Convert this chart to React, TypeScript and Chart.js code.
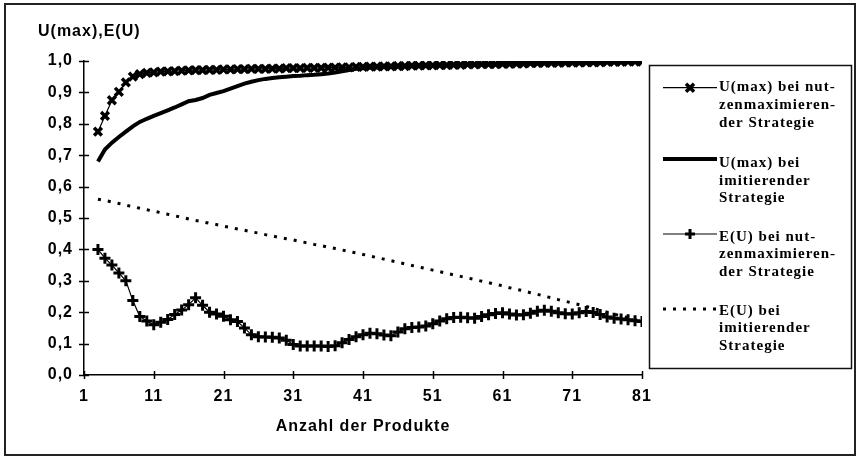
import React, { useEffect, useRef } from 'react';
import { Chart, registerables } from 'chart.js';

Chart.register(...registerables);

// Anzahl der Produkte (x values 3 … 81)
const anzahl = Array.from({ length: 79 }, (_, i) => i + 3);
const xTickValues = [1, 11, 21, 31, 41, 51, 61, 71, 81];

const yTitle = 'U(max),E(U)';
const xTitle = 'Anzahl der Produkte';

// U(max) bei nutzenmaximierender Strategie
const uMaxNutzen = [
  0.775, 0.825, 0.875, 0.902, 0.932, 0.95, 0.958, 0.962, 0.964, 0.966,
  0.967, 0.968, 0.969, 0.97, 0.971, 0.971, 0.972, 0.972, 0.973, 0.973,
  0.974, 0.974, 0.975, 0.975, 0.975, 0.976, 0.976, 0.977, 0.977, 0.977,
  0.978, 0.978, 0.978, 0.979, 0.979, 0.98, 0.98, 0.981, 0.981, 0.982,
  0.982, 0.983, 0.983, 0.984, 0.984, 0.985, 0.985, 0.986, 0.986, 0.987,
  0.987, 0.988, 0.988, 0.989, 0.989, 0.99, 0.99, 0.99, 0.991, 0.991,
  0.992, 0.992, 0.993, 0.993, 0.994, 0.994, 0.994, 0.995, 0.995, 0.995,
  0.996, 0.996, 0.996, 0.997, 0.997, 0.997, 0.998, 0.998, 0.998,
];

// U(max) bei imitierender Strategie
const uMaxImit = [
  0.68, 0.718, 0.74, 0.758, 0.775, 0.792, 0.806, 0.816, 0.825, 0.834,
  0.843, 0.852, 0.862, 0.872, 0.876, 0.882, 0.892, 0.898, 0.904, 0.912,
  0.92, 0.928, 0.934, 0.939, 0.943, 0.946, 0.948, 0.95, 0.952, 0.953,
  0.955, 0.956, 0.958, 0.96, 0.963, 0.967, 0.971, 0.975, 0.977, 0.979,
  0.98, 0.981, 0.982, 0.983, 0.984, 0.984, 0.985, 0.985, 0.986, 0.986,
  0.987, 0.987, 0.988, 0.988, 0.989, 0.989, 0.99, 0.99, 0.99, 0.991,
  0.991, 0.992, 0.992, 0.993, 0.993, 0.994, 0.994, 0.994, 0.995, 0.995,
  0.995, 0.996, 0.996, 0.996, 0.997, 0.997, 0.997, 0.998, 0.998,
];

// E(U) bei nutzenmaximierender Strategie
const eUNutzen = [
  0.4, 0.372, 0.35, 0.325, 0.3, 0.237, 0.186, 0.172, 0.16, 0.168,
  0.177, 0.193, 0.207, 0.224, 0.246, 0.222, 0.2, 0.194, 0.187, 0.176,
  0.17, 0.15, 0.128, 0.122, 0.121, 0.12, 0.118, 0.111, 0.097, 0.092,
  0.092, 0.092, 0.092, 0.091, 0.093, 0.103, 0.113, 0.122, 0.128, 0.133,
  0.131, 0.127, 0.125, 0.137, 0.147, 0.151, 0.153, 0.156, 0.163, 0.172,
  0.179, 0.183, 0.184, 0.182, 0.181, 0.186, 0.192, 0.196, 0.198, 0.194,
  0.191, 0.192, 0.197, 0.203, 0.206, 0.203, 0.198, 0.195, 0.194, 0.198,
  0.202, 0.199, 0.193, 0.185, 0.181, 0.178, 0.176, 0.173, 0.17,
];

// E(U) bei imitierender Strategie
const eUImit = [
  0.56, 0.556, 0.551, 0.546, 0.541, 0.536, 0.531, 0.526, 0.522, 0.517,
  0.512, 0.507, 0.502, 0.497, 0.492, 0.488, 0.483, 0.479, 0.474, 0.47,
  0.465, 0.461, 0.456, 0.452, 0.447, 0.443, 0.438, 0.434, 0.43, 0.425,
  0.421, 0.416, 0.412, 0.407, 0.403, 0.398, 0.393, 0.389, 0.384, 0.379,
  0.374, 0.369, 0.364, 0.359, 0.354, 0.349, 0.344, 0.339, 0.334, 0.329,
  0.324, 0.319, 0.314, 0.309, 0.304, 0.299, 0.294, 0.289, 0.284, 0.278,
  0.273, 0.268, 0.262, 0.257, 0.251, 0.246, 0.24, 0.235, 0.229, 0.224,
  0.218, 0.212, 0.206, 0.2, 0.194, 0.188, 0.182, 0.176, 0.17,
];

const legendLines = [
  ['U(max) bei nut-', 'zenmaximieren-', 'der Strategie'],
  ['U(max) bei', 'imitierender', 'Strategie'],
  ['E(U) bei nut-', 'zenmaximieren-', 'der Strategie'],
  ['E(U) bei', 'imitierender', 'Strategie'],
];

const INK = '#000000';
const SANS = '"Liberation Sans", Arial, sans-serif';
const SERIF = '"Liberation Serif", "Times New Roman", serif';

const toPoints = (vals: number[]) => anzahl.map((x, i) => ({ x, y: vals[i] }));

function drawX(ctx: CanvasRenderingContext2D, cx: number, cy: number, r: number) {
  ctx.beginPath();
  ctx.moveTo(cx - r, cy - r);
  ctx.lineTo(cx + r, cy + r);
  ctx.moveTo(cx - r, cy + r);
  ctx.lineTo(cx + r, cy - r);
  ctx.stroke();
}

function drawPlus(ctx: CanvasRenderingContext2D, cx: number, cy: number, r: number) {
  ctx.beginPath();
  ctx.moveTo(cx - r, cy);
  ctx.lineTo(cx + r, cy);
  ctx.moveTo(cx, cy - r);
  ctx.lineTo(cx, cy + r);
  ctx.stroke();
}

// Wider letter spacing for all canvas text
const spacingPlugin = {
  id: 'letterSpacing',
  beforeLayout(chart: any) {
    chart.ctx.letterSpacing = '1px';
  },
  beforeDraw(chart: any) {
    chart.ctx.letterSpacing = '1px';
  },
};

// Crossing tick marks, y title, legend box and outer frame
const decorPlugin = {
  id: 'decor',
  afterDraw(chart: any) {
    const ctx: CanvasRenderingContext2D = chart.ctx;
    const xs = chart.scales.x;
    const ys = chart.scales.y;
    const { left, bottom } = chart.chartArea;
    ctx.save();
    ctx.strokeStyle = INK;
    ctx.fillStyle = INK;
    ctx.lineWidth = 1.5;

    ys.ticks.forEach((t: any) => {
      const py = Math.round(ys.getPixelForValue(t.value)) + 0.5;
      ctx.beginPath();
      ctx.moveTo(left - 5, py);
      ctx.lineTo(left + 5, py);
      ctx.stroke();
    });
    xs.ticks.forEach((t: any) => {
      const px = Math.round(xs.getPixelForValue(t.value)) + 0.5;
      ctx.beginPath();
      ctx.moveTo(px, bottom - 4);
      ctx.lineTo(px, bottom + 4);
      ctx.stroke();
    });

    ctx.letterSpacing = '1px';
    ctx.font = `bold 16px ${SANS}`;
    ctx.textAlign = 'left';
    ctx.textBaseline = 'middle';
    ctx.fillText(yTitle, 38, 32);

    // legend
    ctx.lineWidth = 1.5;
    ctx.strokeStyle = '#111';
    ctx.strokeRect(649.5, 65.5, 202, 303);

    const entryTop = [87.5, 163, 236.7, 310.7];
    const sampleY = [87.7, 159, 234, 309];
    const lx0 = 663;
    const lx1 = 717;
    ctx.font = `bold 15px ${SERIF}`;
    legendLines.forEach((lines, i) => {
      lines.forEach((line, j) => {
        ctx.fillText(line, 719, entryTop[i] + j * 17.8);
      });
      const sy = sampleY[i];
      ctx.strokeStyle = INK;
      ctx.setLineDash(i === 3 ? [3, 7] : []);
      ctx.lineWidth = i === 1 ? 4 : i === 3 ? 3 : 1.2;
      ctx.beginPath();
      ctx.moveTo(lx0, sy);
      ctx.lineTo(lx1, sy);
      ctx.stroke();
      ctx.setLineDash([]);
      if (i === 0) {
        ctx.lineWidth = 3.5;
        drawX(ctx, 690, sy, 4);
      } else if (i === 2) {
        ctx.lineWidth = 3;
        drawPlus(ctx, 690, sy, 5);
      }
    });

    // outer frame
    ctx.lineWidth = 2;
    ctx.strokeStyle = '#222';
    ctx.strokeRect(5, 4, 850, 451);
    ctx.restore();
  },
};

export default function App() {
  const canvasRef = useRef<HTMLCanvasElement | null>(null);

  useEffect(() => {
    const canvas = canvasRef.current;
    if (!canvas) return;
    const chart = new Chart(canvas, {
      type: 'line',
      data: {
        datasets: [
          {
            label: 'U(max) bei nutzenmaximierender Strategie',
            data: toPoints(uMaxNutzen),
            borderColor: INK,
            borderWidth: 1.2,
            pointStyle: 'crossRot',
            pointRadius: 5.5,
            pointBorderWidth: 3.5,
            pointBorderColor: INK,
            pointBackgroundColor: INK,
            tension: 0,
          },
          {
            label: 'U(max) bei imitierender Strategie',
            data: toPoints(uMaxImit),
            borderColor: INK,
            borderWidth: 4,
            pointRadius: 0,
            tension: 0,
          },
          {
            label: 'E(U) bei nutzenmaximierender Strategie',
            data: toPoints(eUNutzen),
            borderColor: INK,
            borderWidth: 1.2,
            pointStyle: 'cross',
            pointRadius: 5.5,
            pointBorderWidth: 3,
            pointBorderColor: INK,
            pointBackgroundColor: INK,
            tension: 0,
          },
          {
            label: 'E(U) bei imitierender Strategie',
            data: toPoints(eUImit),
            borderColor: INK,
            borderWidth: 3,
            borderDash: [3, 7],
            pointRadius: 0,
            tension: 0,
          },
        ],
      },
      options: {
        responsive: false,
        animation: false,
        devicePixelRatio: 1,
        layout: { padding: { left: 0, top: 61, right: 215, bottom: 0 } },
        plugins: {
          legend: { display: false },
          tooltip: { enabled: false },
        },
        scales: {
          x: {
            type: 'linear',
            min: 1,
            max: 81,
            afterBuildTicks: (s: any) => {
              s.ticks = xTickValues.map((v) => ({ value: v }));
            },
            afterFit: (s: any) => {
              s.height = 87;
            },
            grid: { display: false, drawTicks: false },
            border: { display: true, color: INK, width: 1.5 },
            ticks: {
              color: INK,
              padding: 12,
              maxRotation: 0,
              autoSkip: false,
              font: { family: SANS, size: 16, weight: 'bold' },
              callback: (v: any) => String(v),
            },
            title: {
              display: true,
              text: xTitle,
              color: INK,
              font: { family: SANS, size: 16, weight: 'bold' },
              padding: { top: 0, bottom: 26 },
            },
          },
          y: {
            type: 'linear',
            min: 0,
            max: 1,
            afterFit: (s: any) => {
              s.width = 84;
            },
            grid: { display: false, drawTicks: false },
            border: { display: true, color: INK, width: 1.5 },
            ticks: {
              stepSize: 0.1,
              color: INK,
              padding: 11,
              font: { family: SANS, size: 16, weight: 'bold' },
              callback: (v: any) => Number(v).toFixed(1).replace('.', ','),
            },
          },
        },
      },
      plugins: [spacingPlugin, decorPlugin],
    } as any);
    return () => chart.destroy();
  }, []);

  return (
    <div style={{ position: 'absolute', left: 0, top: 0, width: 857, height: 462, background: '#fff' }}>
      <canvas ref={canvasRef} width={857} height={462} style={{ display: 'block', width: 857, height: 462 }} />
    </div>
  );
}
